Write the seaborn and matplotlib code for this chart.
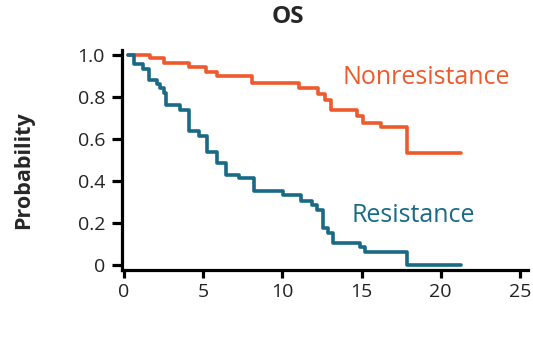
import matplotlib
matplotlib.use("Agg")
import matplotlib.pyplot as plt
import seaborn as sns
import pandas as pd

# ---- data ----
nonres_time = [0.25, 1.65, 2.5, 4.1, 5.2, 5.9, 8.1, 11.05, 12.25, 12.7, 13.1, 14.7, 15.1, 16.2, 17.9]
nonres_surv = [1.0, 0.983, 0.962, 0.94, 0.916, 0.90, 0.867, 0.84, 0.812, 0.785, 0.737, 0.709, 0.677, 0.658, 0.535]
nonres_last = 21.3

res_time = [0.25, 0.6, 1.2, 1.6, 2.05, 2.3, 2.5, 2.65, 3.55, 4.1, 4.75, 5.25, 5.9, 6.45, 7.25, 8.2,
            10.05, 11.15, 11.9, 12.2, 12.55, 12.9, 13.2, 14.9, 15.2, 17.9]
res_surv = [1.0, 0.956, 0.93, 0.88, 0.86, 0.84, 0.817, 0.76, 0.737, 0.639, 0.614, 0.54, 0.487, 0.43,
            0.413, 0.355, 0.335, 0.305, 0.285, 0.265, 0.175, 0.155, 0.104, 0.088, 0.065, 0.0]
res_last = 21.3

group_names = ["Nonresistance", "Resistance"]
x_ticks = [0, 5, 10, 15, 20, 25]
y_ticks = [0, 0.2, 0.4, 0.6, 0.8, 1.0]
y_tick_labels = ["0", "0.2", "0.4", "0.6", "0.8", "1.0"]

title = "OS"
ylabel = "Probability"

orange = "#EE5A2B"
teal = "#186A86"

rows = []
for g, t, s, last in [(group_names[0], nonres_time, nonres_surv, nonres_last),
                      (group_names[1], res_time, res_surv, res_last)]:
    for i, (ti, si) in enumerate(zip(t + [last], s + [s[-1]])):
        rows.append({"time": ti, "surv": si, "group": g, "order": i})
df = pd.DataFrame(rows)

sns.set_style("ticks")
plt.rcParams["font.family"] = ["Open Sans", "DejaVu Sans"]

fig = plt.figure(figsize=(5.33, 3.4), dpi=100)
ax = fig.add_axes([0.2283, 0.2059, 0.762, 0.6456])

sns.lineplot(data=df, x="time", y="surv", hue="group", estimator=None, sort=False,
             units="group", palette={group_names[0]: orange, group_names[1]: teal},
             drawstyle="steps-post", linewidth=2.6, legend=False, ax=ax)

ax.set_xlim(-0.15, 25.5)
ax.set_ylim(-0.022, 1.02)
ax.set_xticks(x_ticks)
ax.set_xticklabels([str(v) for v in x_ticks])
ax.set_yticks(y_ticks)
ax.set_yticklabels(y_tick_labels)
ax.set_xlabel("")
ax.set_ylabel("")

for side in ["top", "right"]:
    ax.spines[side].set_visible(False)
for side in ["left", "bottom"]:
    ax.spines[side].set_linewidth(2.3)
    ax.spines[side].set_color("black")

ax.tick_params(axis="y", length=7, width=2.3, pad=5, labelsize=14, colors="black")
ax.tick_params(axis="x", length=5.5, width=2.3, pad=4, labelsize=14, colors="black")
for lab in ax.get_xticklabels() + ax.get_yticklabels():
    lab.set_color("#222222")

ax.text(342.7 / 533, 1 - 77 / 340, group_names[0], transform=fig.transFigure,
        color=orange, fontsize=18, ha="left", va="center")
ax.text(351.7 / 533, 1 - 216 / 340, group_names[1], transform=fig.transFigure,
        color=teal, fontsize=18, ha="left", va="center")

fig.text(288 / 533, 1 - 17 / 340, title, fontsize=17.5, fontweight="bold", ha="center", va="center")
fig.text(24 / 533, 1 - 170 / 340, ylabel, fontsize=15.5, fontweight="bold", rotation=90,
         ha="center", va="center")

fig.savefig("out.png", dpi=100)
